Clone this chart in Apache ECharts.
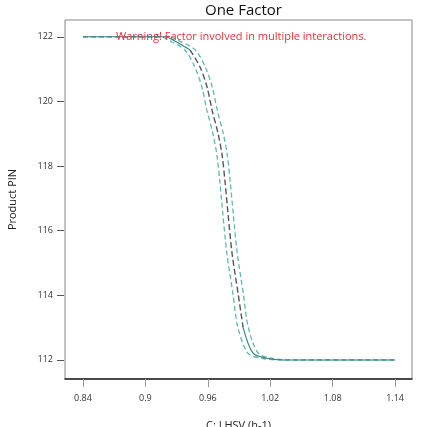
<!DOCTYPE html>
<html>
<head>
<meta charset="utf-8">
<script src="https://cdn.jsdelivr.net/npm/echarts@6/dist/echarts.min.js"></script>
<style>
html,body{margin:0;padding:0;background:#fff;}
#myChart{width:425px;height:427px;}
</style>
</head>
<body>
<div id="myChart"></div>
<script>
// 预测曲线
var centerX = [0.84, 0.919, 0.9266, 0.943, 0.9526, 0.9593, 0.9641, 0.9699, 0.9737, 0.9766, 0.9795, 0.9833, 0.9891, 0.9939, 1.0035, 1.017, 1.0324, 1.14];
var centerY = [122, 122, 121.9, 121.59, 121.06, 120.44, 119.73, 119.0, 118.35, 117.5, 116.5, 115.3, 114.06, 113.01, 112.21, 112.05, 112.0, 112.0];
// 置信区间
var lowerX = [0.84, 0.915, 0.922, 0.938, 0.9476, 0.9543, 0.9591, 0.9649, 0.9687, 0.9716, 0.9745, 0.9783, 0.9841, 0.9889, 0.9985, 1.012, 1.028, 1.14];
var upperX = [0.84, 0.923, 0.931, 0.948, 0.9576, 0.9643, 0.9691, 0.9749, 0.9787, 0.9816, 0.9845, 0.9883, 0.9941, 0.9989, 1.0085, 1.022, 1.036, 1.14];
var xTicks = [0.84, 0.9, 0.96, 1.02, 1.08, 1.14];
var yTicks = [112, 114, 116, 118, 120, 122];

function pairs(xs, ys){
	return xs.map(function(x, i){ return [x, ys[i]]; });
}
function line(name, data, style){
	return {name:name, type:'line', data:data, smooth:0.3, symbol:'none', lineStyle:style};
}

var font = '"Open Sans", "Noto Sans", sans-serif';
var band = {color:'#5fb8b2', width:1.3, type:[5,3]};
var solid = {color:'#2f7f7c', width:1.1};
var option = {
	animation:false,
	title:[{
		text:'One Factor',
		left:200,
		top:-2,
		textStyle:{fontFamily:font, fontSize:15, fontWeight:'normal', color:'#111'}
	},{
		text:'Warning! Factor involved in multiple interactions.',
		left:111,
		top:26,
		textStyle:{fontFamily:font, fontSize:11, fontWeight:'normal', color:'#e8303a'}
	}],
	grid:{
		left:65, right:13, top:20, bottom:48,
		outerBoundsMode:'none',
		show:true, borderColor:'#888', borderWidth:1, backgroundColor:'#fff'
	},
	xAxis:{
		type:'value',
		min:0.8227, max:1.1563,
		name:'C: LHSV (h-1)',
		nameLocation:'middle',
		nameGap:41,
		nameTextStyle:{fontFamily:font, fontSize:11, color:'#222'},
		axisLine:{show:true, lineStyle:{color:'#222', width:1.5}},
		axisTick:{show:true, length:8, lineStyle:{color:'#999'}, customValues:xTicks},
		axisLabel:{fontFamily:font, fontSize:9, color:'#333', margin:15, customValues:xTicks,
			formatter:function(v){ return String(Math.round(v*100)/100); }},
		splitLine:{show:false}
	},
	yAxis:{
		type:'value',
		min:111.41, max:122.52,
		offset:1,
		name:'Product PIN',
		nameLocation:'middle',
		nameGap:46,
		nameTextStyle:{fontFamily:font, fontSize:11, color:'#222'},
		axisLine:{show:false},
		axisTick:{show:true, length:7, lineStyle:{color:'#555'}, customValues:yTicks},
		axisLabel:{fontFamily:font, fontSize:9, color:'#333', margin:11, customValues:yTicks},
		splitLine:{show:false}
	},
	series:[
		line('lower', pairs(lowerX, centerY), band),
		line('upper', pairs(upperX, centerY), band),
		line('top', pairs(centerX.slice(0, 4), centerY.slice(0, 4)), solid),
		line('bottom', pairs(centerX.slice(13), centerY.slice(13)), solid),
		line('mean', pairs(centerX.slice(3, 14), centerY.slice(3, 14)), {color:'#555', width:1.4, type:[6,3]})
	]
};
echarts.init(document.getElementById('myChart')).setOption(option);
</script>
</body>
</html>
